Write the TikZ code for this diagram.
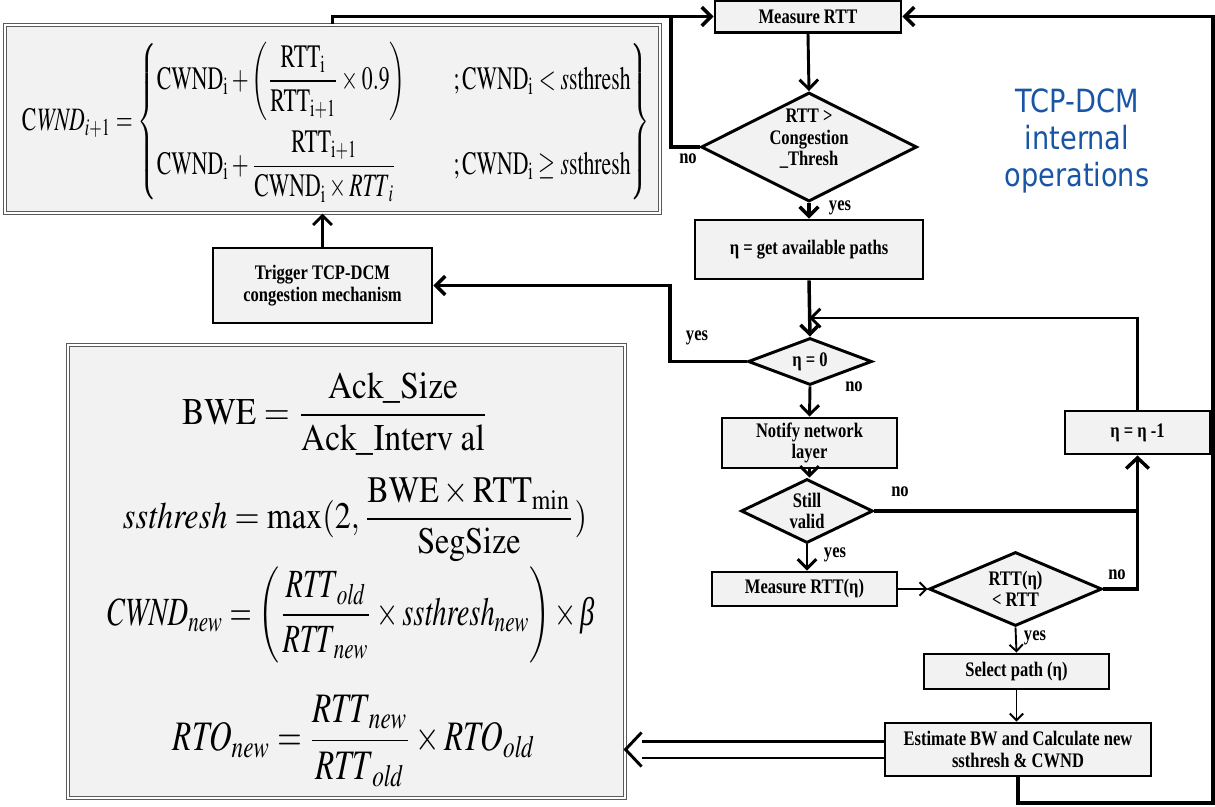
\documentclass[tikz,border=0pt]{standalone}
\usepackage{amsmath}
\usepackage{mathptmx}
\usepackage{graphicx}
\usepackage[no-math]{fontspec}
\usetikzlibrary{shapes.geometric,arrows.meta}
\setmainfont{Liberation Serif}
\newfontfamily\flowfont[FakeStretch=0.8]{Liberation Serif}
\newfontfamily\titlefont[FakeStretch=0.85]{DejaVu Sans}
\newcommand\flowtext{\flowfont\bfseries\fontsize{15.5pt}{16pt}\selectfont}
\newcommand\titletext{\titlefont\fontsize{24pt}{28pt}\selectfont}
\newcommand\itbeta{\text{\itshape β}}
\newdimen\upx \upx=0.75pt
\definecolor{boxfill}{RGB}{242,242,242}
\definecolor{titleblue}{RGB}{25,85,165}
\definecolor{frame}{RGB}{90,90,90}
\begin{document}
\begin{tikzpicture}[x=0.75pt,y=-0.75pt,
  every node/.style={inner sep=0pt},
  stepbox/.style={draw, rectangle, line width=2.2pt, fill=boxfill, align=center, font=\flowtext},
  decide/.style={draw, diamond, aspect=2, line width=2.2pt, fill=boxfill, align=center, font=\flowtext},
  fbox/.style={draw=frame, line width=0.8pt, double=white, double distance=1.2pt, fill=boxfill, rectangle},
  lbl/.style={font=\flowtext},
  flow/.style={line width=2.6pt, -{Straight Barb[length=7pt,width=14pt]}},
  wire/.style={line width=2.6pt},
  thin/.style={line width=1.4pt, -{Straight Barb[length=5pt,width=10pt]}},
  dbl/.style={line width=2pt, double=white, double distance=10.5pt},
  chevron/.style={line width=2.2pt, line join=miter},
]
\useasboundingbox (0,0) rectangle (1215,807);

% formula panels
\node[fbox, minimum width=655\upx, minimum height=188\upx] (tb) at (332.5,119) {};
\node (f0) at (336,122) {\resizebox*{471pt}{120pt}{$\mathrm{C}\mathit{WND}_{i+1}=\left\{\begin{array}{@{}l@{\hspace{2.2em}}l@{}}
\mathrm{CWND}_{\mathrm{i}}+\left(\dfrac{\mathrm{RTT}_{\mathrm{i}}}{\mathrm{RTT}_{\mathrm{i+1}}}\times 0.9\right) & ;\mathrm{CWND}_{\mathrm{i}}<s\mathrm{sthresh}\\[9pt]
\mathrm{CWND}_{\mathrm{i}}+\dfrac{\mathrm{RTT}_{\mathrm{i+1}}}{\mathrm{CWND}_{\mathrm{i}}\times\mathit{RTT}_{i}} & ;\mathrm{CWND}_{\mathrm{i}}\geq s\mathrm{sthresh}
\end{array}\right\}$}};

\node[fbox, minimum width=557\upx, minimum height=453\upx] (fb) at (346.5,571.5) {};
\node (f1) at (335.5,414) {\resizebox*{230pt}{61.5pt}{$\mathrm{BWE}=\dfrac{\mathrm{Ack\_Size}}{\mathrm{Ack\_Interv\;al}}$}};
\node (f2) at (355,520) {\resizebox*{348pt}{63pt}{$\mathit{ssthresh}=\max(2,\dfrac{\mathrm{BWE}\times\mathrm{RTT}_{\min}}{\mathrm{SegSize}})$}};
\node (f3) at (350.5,615) {\resizebox*{366.75pt}{72pt}{$\mathit{CWND}_{\mathit{new}}=\left(\dfrac{\mathit{RTT}_{\mathit{old}}}{\mathit{RTT}_{\mathit{new}}}\times\mathit{ssthresh}_{\mathit{new}}\right)\times\itbeta$}};
\node (f4) at (354,741) {\resizebox*{271.5pt}{69pt}{$\mathit{RTO}_{\mathit{new}}=\dfrac{\mathit{RTT}_{\mathit{new}}}{\mathit{RTT}_{\mathit{old}}}\times\mathit{RTO}_{\mathit{old}}$}};

% flowchart steps
\node[stepbox, minimum width=186\upx, minimum height=32\upx] (m1) at (808,16.5) {Measure RTT};
\node[decide, minimum width=216\upx, minimum height=109\upx] (d1) at (809,147) {};
\node[lbl, align=center] (d1t) at (809,139) {RTT >\\Congestion\\\_Thresh};
\node[stepbox, minimum width=228\upx, minimum height=59\upx] (ga) at (809,249.5) {η = get available paths};
\node[decide, minimum width=124\upx, minimum height=47\upx] (d2) at (810,361.5) {η = 0};
\node[stepbox, minimum width=175\upx, minimum height=50\upx] (nt) at (809.5,443) {Notify network\\layer};
\node[decide, minimum width=132\upx, minimum height=64\upx] (d3) at (807,511) {Still\\valid};
\node[stepbox, minimum width=185\upx, minimum height=34\upx] (m2) at (804.5,589) {Measure RTT(η)};
\node[decide, minimum width=173\upx, minimum height=74\upx] (d4) at (1015.5,589) {RTT(η)\\< RTT};
\node[stepbox, minimum width=185\upx, minimum height=35\upx] (sel) at (1016.5,671.5) {Select path (η)};
\node[stepbox, minimum width=266\upx, minimum height=53\upx] (est) at (1018,749.5) {Estimate BW and Calculate new\\ssthresh \& CWND};
\node[stepbox, minimum width=145\upx, minimum height=43\upx] (dec) at (1137.5,432.5) {η = η -1};
\node[stepbox, minimum width=219\upx, minimum height=75\upx] (trig) at (322.5,285.5) {Trigger TCP-DCM\\congestion mechanism};

\node[font=\titletext, text=titleblue, align=center] (ttl) at (1077,141) {TCP-DCM\\internal\\operations};

% junction points of the loops
\coordinate (j1) at (671,16.5);
\coordinate (j2) at (809,318);
\coordinate (j3) at (670,361.5);
\coordinate (j4) at (1213,803);
\coordinate (tip) at (fb.east |- est.west);
\coordinate (back) at ([xshift=16\upx]tip);

% connectors
\draw[flow] (tb.north) |- (m1.west);
\draw[wire] (d1.west) -| (j1);
\draw[flow, line width=2.2pt] (m1.south) -- (d1.north);
\draw[flow] (d1.south) -- (ga.north);
\draw[flow] (ga.south) -- (d2.north);
\draw[flow, line width=2.2pt] (dec.north) |- (j2);
\draw[flow] (d2.west) -- (j3) |- (trig.east);
\draw[flow, line width=2.2pt] (trig.north) -- (trig.north |- tb.south);
\draw[flow, line width=2.2pt] (d2.south) -- (nt.north);
\draw[flow, line width=2.2pt] (nt.south) -- (nt.south |- d3.north);
\draw[flow, line width=2.2pt] (d3.south) -- (d3.south |- m2.north);
\draw[wire] (d3.east) -- (d3.east -| dec.south);
\draw[flow, -{Straight Barb[length=8pt,width=17pt]}] (d4.east) -| (dec.south);
\draw[thin] (m2.east) -- (d4.west);
\draw[thin] (d4.south) -- (sel.north);
\draw[thin] (sel.south) -- (sel.south |- est.north);
\draw[flow] (est.south) |- (j4) |- (m1.east);
% hollow double arrow towards the formula panel
\draw[dbl] (est.west) -- (back);
\draw[chevron] ([yshift=12.75pt]back) -- (tip) -- ([yshift=-12.75pt]back);

% branch labels
\node[lbl] (n1) at (688,159) {no};
\node[lbl] (y1) at (840,208) {yes};
\node[lbl] (y2) at (697,338) {yes};
\node[lbl] (n2) at (854,387) {no};
\node[lbl] (n3) at (900,492) {no};
\node[lbl] (y3) at (835,555) {yes};
\node[lbl] (n4) at (1117,575) {no};
\node[lbl] (y4) at (1035,638) {yes};
\end{tikzpicture}
\end{document}
